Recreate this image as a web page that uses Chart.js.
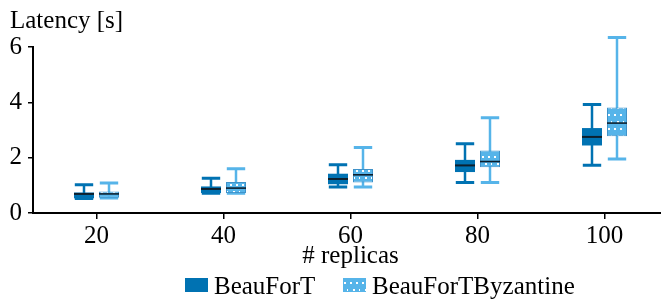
<!DOCTYPE html>
<html><head><meta charset="utf-8">
<script src="https://cdn.jsdelivr.net/npm/chart.js@4.4.1/dist/chart.umd.min.js"></script>
<style>html,body{margin:0;padding:0;overflow:hidden;background:#fff;}#wrap{width:668px;height:299px;}</style>
</head><body><div id="wrap"><canvas id="c" width="668" height="299"></canvas></div>
<script>
// ---- data ----
const categories = ['20', '40', '60', '80', '100'];
const seriesNames = ['BeauForT', 'BeauForTByzantine'];
const yTicks = [0, 2, 4, 6];
const yTitle = 'Latency [s]';
const xTitle = '# replicas';

const beaufortMin = [0.52, 0.71, 0.94, 1.10, 1.73];
const beaufortQ1  = [0.53, 0.72, 1.04, 1.48, 2.44];
const beaufortMed = [0.69, 0.87, 1.23, 1.72, 2.75];
const beaufortQ3  = [0.74, 0.96, 1.42, 1.92, 3.07];
const beaufortMax = [1.02, 1.26, 1.74, 2.50, 3.92];

const byzMin = [0.54, 0.71, 0.94, 1.10, 1.95];
const byzQ1  = [0.55, 0.72, 1.10, 1.65, 2.77];
const byzMed = [0.69, 0.90, 1.38, 1.86, 3.25];
const byzQ3  = [0.78, 1.12, 1.59, 2.26, 3.81];
const byzMax = [1.08, 1.60, 2.37, 3.44, 6.34];

// ---- style ----
const FONT = '"Liberation Serif", "Times New Roman", serif';
const FS = 25;
const DARK = '#0072B2';
const LIGHT = '#56B4E9';
const MEDIAN = '#0d1f2d';

function makePattern() {
  const c = document.createElement('canvas');
  c.width = 12; c.height = 14;
  const g = c.getContext('2d');
  g.fillStyle = LIGHT; g.fillRect(0, 0, 12, 14);
  g.fillStyle = '#ffffff';
  [[2, 2], [8, 2], [5, 9], [11, 9]].forEach(p => g.fillRect(p[0], p[1], 2, 2));
  return document.getElementById('c').getContext('2d').createPattern(c, 'repeat');
}
const pattern = makePattern();

const stats = [
  { min: beaufortMin, med: beaufortMed, max: beaufortMax, color: DARK },
  { min: byzMin, med: byzMed, max: byzMax, color: LIGHT }
];

const boxPlugin = {
  id: 'boxplot',
  beforeDatasetsDraw(chart) {
    const y = chart.scales.y, ctx = chart.ctx;
    stats.forEach((s, di) => {
      chart.getDatasetMeta(di).data.forEach((bar, j) => {
        const x = bar.x, w = bar.width;
        const yTop = y.getPixelForValue(s.max[j]);
        const yBot = y.getPixelForValue(s.min[j]);
        ctx.save();
        ctx.strokeStyle = s.color;
        ctx.lineWidth = 2.5;
        ctx.beginPath(); ctx.moveTo(x, yTop); ctx.lineTo(x, yBot); ctx.stroke();
        ctx.lineWidth = 3;
        const cw = w * 0.92 / 2;
        ctx.beginPath();
        ctx.moveTo(x - cw, yTop); ctx.lineTo(x + cw, yTop);
        ctx.moveTo(x - cw, yBot); ctx.lineTo(x + cw, yBot);
        ctx.stroke();
        ctx.restore();
      });
    });
  },
  afterDatasetsDraw(chart) {
    const y = chart.scales.y, ctx = chart.ctx;
    stats.forEach((s, di) => {
      chart.getDatasetMeta(di).data.forEach((bar, j) => {
        const x = bar.x, w = bar.width;
        const ym = y.getPixelForValue(s.med[j]);
        ctx.save();
        ctx.strokeStyle = MEDIAN;
        ctx.lineWidth = di === 0 ? 2 : 1.6;
        ctx.beginPath(); ctx.moveTo(x - w / 2, ym); ctx.lineTo(x + w / 2, ym); ctx.stroke();
        ctx.restore();
      });
    });
  },
  afterDraw(chart) {
    const ctx = chart.ctx, ca = chart.chartArea;
    ctx.save();
    ctx.font = FS + 'px ' + FONT;
    ctx.fillStyle = '#000';
    ctx.textBaseline = 'alphabetic';
    ctx.textAlign = 'left';
    ctx.fillText(yTitle, 10, 28);
    ctx.textAlign = 'center';
    ctx.fillText(xTitle, (ca.left + ca.right) / 2, 263);
    // legend
    const legendX = [185, 343];
    ctx.textAlign = 'left';
    seriesNames.forEach((name, i) => {
      const lx = legendX[i];
      ctx.fillStyle = i === 0 ? DARK : pattern;
      ctx.fillRect(lx, 278, 23, 14);
      ctx.fillStyle = '#000';
      ctx.fillText(name, lx + 29, 294);
    });
    ctx.restore();
  }
};

new Chart(document.getElementById('c'), {
  type: 'bar',
  data: {
    labels: categories,
    datasets: [
      { label: seriesNames[0], data: beaufortQ1.map((q, i) => [q, beaufortQ3[i]]),
        backgroundColor: DARK, borderColor: DARK, borderWidth: 0, borderSkipped: false },
      { label: seriesNames[1], data: byzQ1.map((q, i) => [q, byzQ3[i]]),
        backgroundColor: pattern, borderColor: '#3f92c9', borderWidth: 1, borderSkipped: false }
    ]
  },
  options: {
    responsive: false,
    animation: false,
    layout: { padding: { top: 47, left: 0, right: 0, bottom: 0 } },
    plugins: { legend: { display: false }, tooltip: { enabled: false } },
    datasets: { bar: { categoryPercentage: 50 / 127, barPercentage: 0.8 } },
    scales: {
      x: {
        offset: true,
        grid: { display: true, drawOnChartArea: false, offset: false, tickLength: 6, color: '#000', lineWidth: 1.5 },
        border: { display: true, color: '#000', width: 2 },
        ticks: { font: { family: FONT, size: FS }, color: '#000', padding: 2, maxRotation: 0 },
        afterFit: s => { s.height = 86; }
      },
      y: {
        min: 0, max: 6,
        afterBuildTicks: s => { s.ticks = yTicks.map(v => ({ value: v })); },
        grid: { display: true, drawOnChartArea: false, tickLength: 5, color: '#000', lineWidth: 1.5 },
        border: { display: true, color: '#000', width: 2 },
        ticks: { font: { family: FONT, size: FS }, color: '#000', padding: 6 },
        afterFit: s => { s.width = 33; }
      }
    }
  },
  plugins: [boxPlugin]
});
</script>
</body></html>
